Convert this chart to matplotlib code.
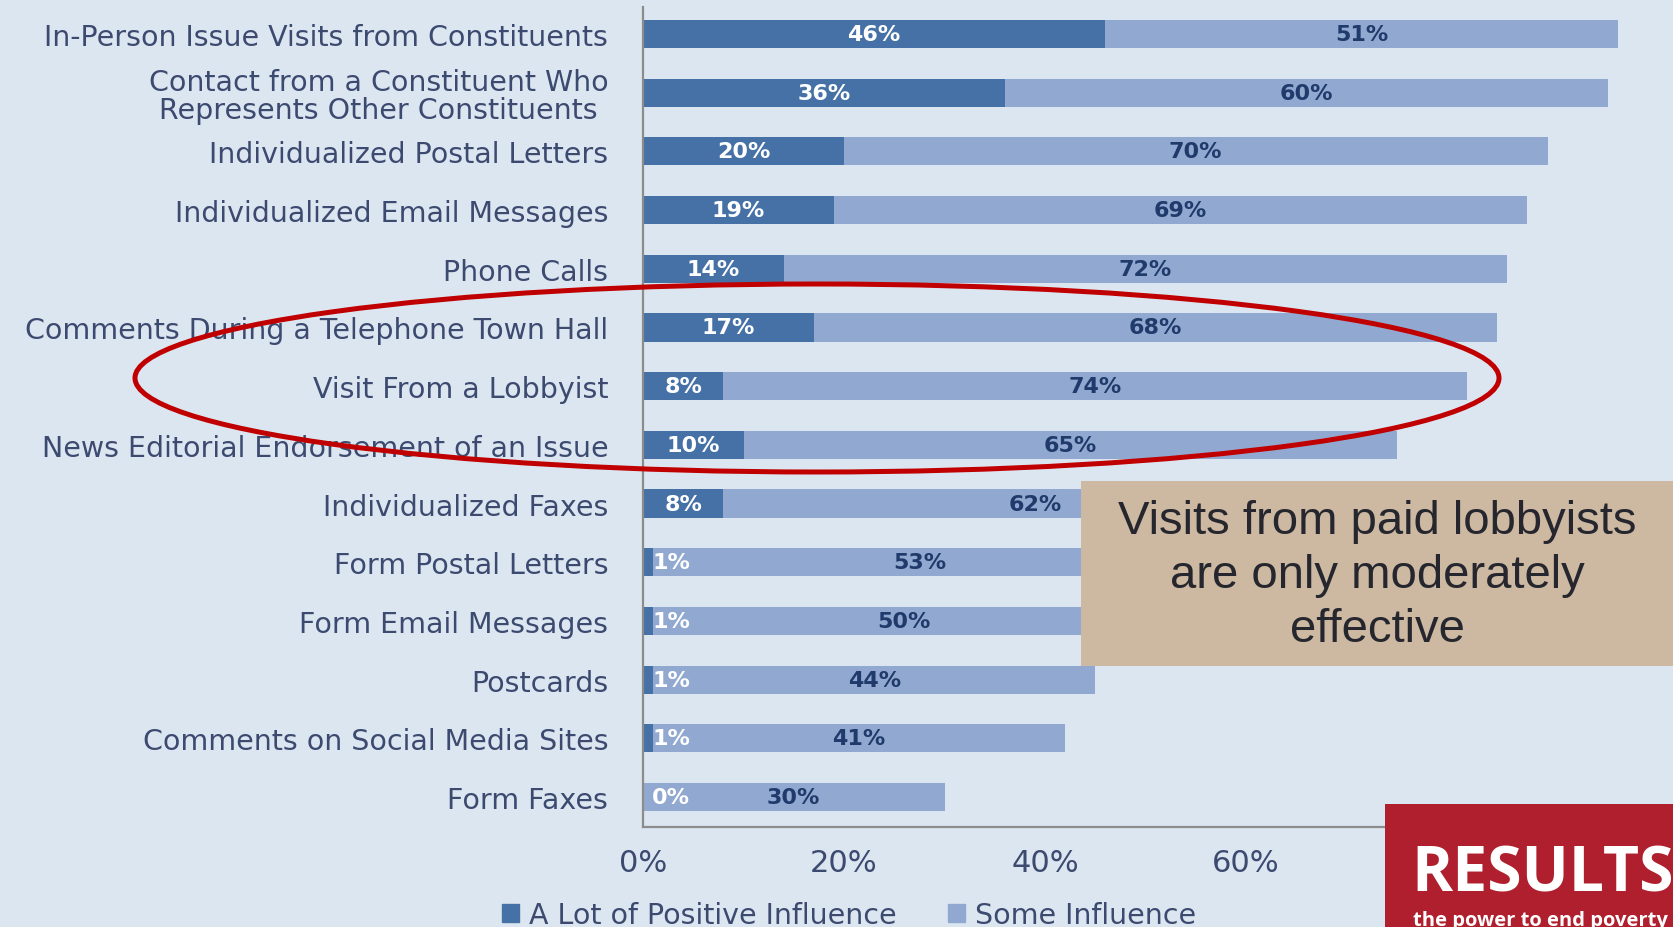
import matplotlib
matplotlib.use("Agg")
import matplotlib.pyplot as plt
from matplotlib.patches import Ellipse, Rectangle, Patch
import numpy as np

categories = [
    "In-Person Issue Visits from Constituents",
    "Contact from a Constituent Who\nRepresents Other Constituents",
    "Individualized Postal Letters",
    "Individualized Email Messages",
    "Phone Calls",
    "Comments During a Telephone Town Hall",
    "Visit From a Lobbyist",
    "News Editorial Endorsement of an Issue",
    "Individualized Faxes",
    "Form Postal Letters",
    "Form Email Messages",
    "Postcards",
    "Comments on Social Media Sites",
    "Form Faxes",
]
a_lot = [46, 36, 20, 19, 14, 17, 8, 10, 8, 1, 1, 1, 1, 0]
some = [51, 60, 70, 69, 72, 68, 74, 65, 62, 53, 50, 44, 41, 30]
xticks = [0, 20, 40, 60]
xtick_labels = ["0%", "20%", "40%", "60%"]
series_names = ["A Lot of Positive Influence", "Some Influence"]
note_text = "Visits from paid lobbyists\nare only moderately\neffective"

BG = "#dce6f1"
DARK = "#4571a6"
LIGHT = "#91a9d0"
LABEL = "#3d4a70"
NAVY = "#1f3a6b"

W, H = 1673, 928
fig = plt.figure(figsize=(W / 100, H / 100), dpi=100, facecolor=BG)
ax = fig.add_axes([643 / W, 1 - 828 / H, 1005 / W, 820 / H], facecolor=BG)

y = np.arange(len(categories))
a_lot_arr = np.array(a_lot)
some_arr = np.array(some)
ax.barh(y, a_lot_arr, height=0.48, color=DARK, zorder=2)
ax.barh(y, some_arr, left=a_lot_arr, height=0.48, color=LIGHT, zorder=2)

ax.set_xlim(0, 100)
ax.set_ylim(len(categories) - 1 + 0.51, -0.46)

for i, (a, s) in enumerate(zip(a_lot, some)):
    if a >= 5:
        ax.text(a / 2, i, f"{a}%", ha="center", va="center", color="white",
                fontsize=16, fontweight="bold", zorder=3)
    else:
        ax.text(0.9, i, f"{a}%", ha="left", va="center", color="white",
                fontsize=16, fontweight="bold", zorder=3)
    ax.text(a + s / 2, i, f"{s}%", ha="center", va="center", color=NAVY,
            fontsize=16, fontweight="bold", zorder=3)

ax.set_yticks(y)
ax.set_yticklabels(categories, fontsize=20.5, color=LABEL,
                   multialignment="center", linespacing=1.0)
ax.set_xticks(xticks)
ax.set_xticklabels(xtick_labels, fontsize=22, color=LABEL)
ax.tick_params(axis="y", length=0, pad=25)
ax.tick_params(axis="x", length=0, pad=15)
for side in ["top", "right"]:
    ax.spines[side].set_visible(False)
for side in ["left", "bottom"]:
    ax.spines[side].set_color("#8c8c8c")
    ax.spines[side].set_linewidth(1.6)

handles = [Patch(color=DARK), Patch(color=LIGHT)]
fig.legend(handles, series_names, loc="center left",
           bbox_to_anchor=(502 / W, 1 - 916 / H), ncol=2, frameon=False,
           fontsize=20.5, labelcolor=LABEL, handlelength=0.6, handleheight=0.6,
           handletextpad=0.35, columnspacing=1.8, borderpad=0, borderaxespad=0)

# annotation box
fig.add_artist(Rectangle((1081 / W, 1 - 667 / H), (W - 1081) / W, 185 / H,
                         transform=fig.transFigure, facecolor="#cdb9a1",
                         edgecolor="none", zorder=5))
fig.text(1377 / W, 1 - 576 / H, note_text, ha="center", va="center",
         fontsize=34, family="Liberation Sans", color="#26262f",
         linespacing=1.3, zorder=6)

# RESULTS logo box
fig.add_artist(Rectangle((1385 / W, 0), (W - 1385) / W, (H - 805) / H,
                         transform=fig.transFigure, facecolor="#af1f2d",
                         edgecolor="none", zorder=5))
fig.text(1411 / W, 1 - 892 / H, "RESULTS", ha="left", va="baseline",
         fontsize=45, family="Open Sans", fontweight="bold", color="white", zorder=6)
fig.text(1413 / W, 1 - 926 / H, "the power to end poverty", ha="left",
         va="baseline", fontsize=14.5, family="Open Sans", fontweight="bold",
         color="white", zorder=6)

# red highlight ellipse
fig.add_artist(Ellipse((817 / W, 1 - 379 / H), 1364 / W, 188 / H,
                       transform=fig.transFigure, fill=False,
                       edgecolor="#c00000", linewidth=3.6, zorder=7))

fig.savefig("out.png", dpi=100, facecolor=BG)
